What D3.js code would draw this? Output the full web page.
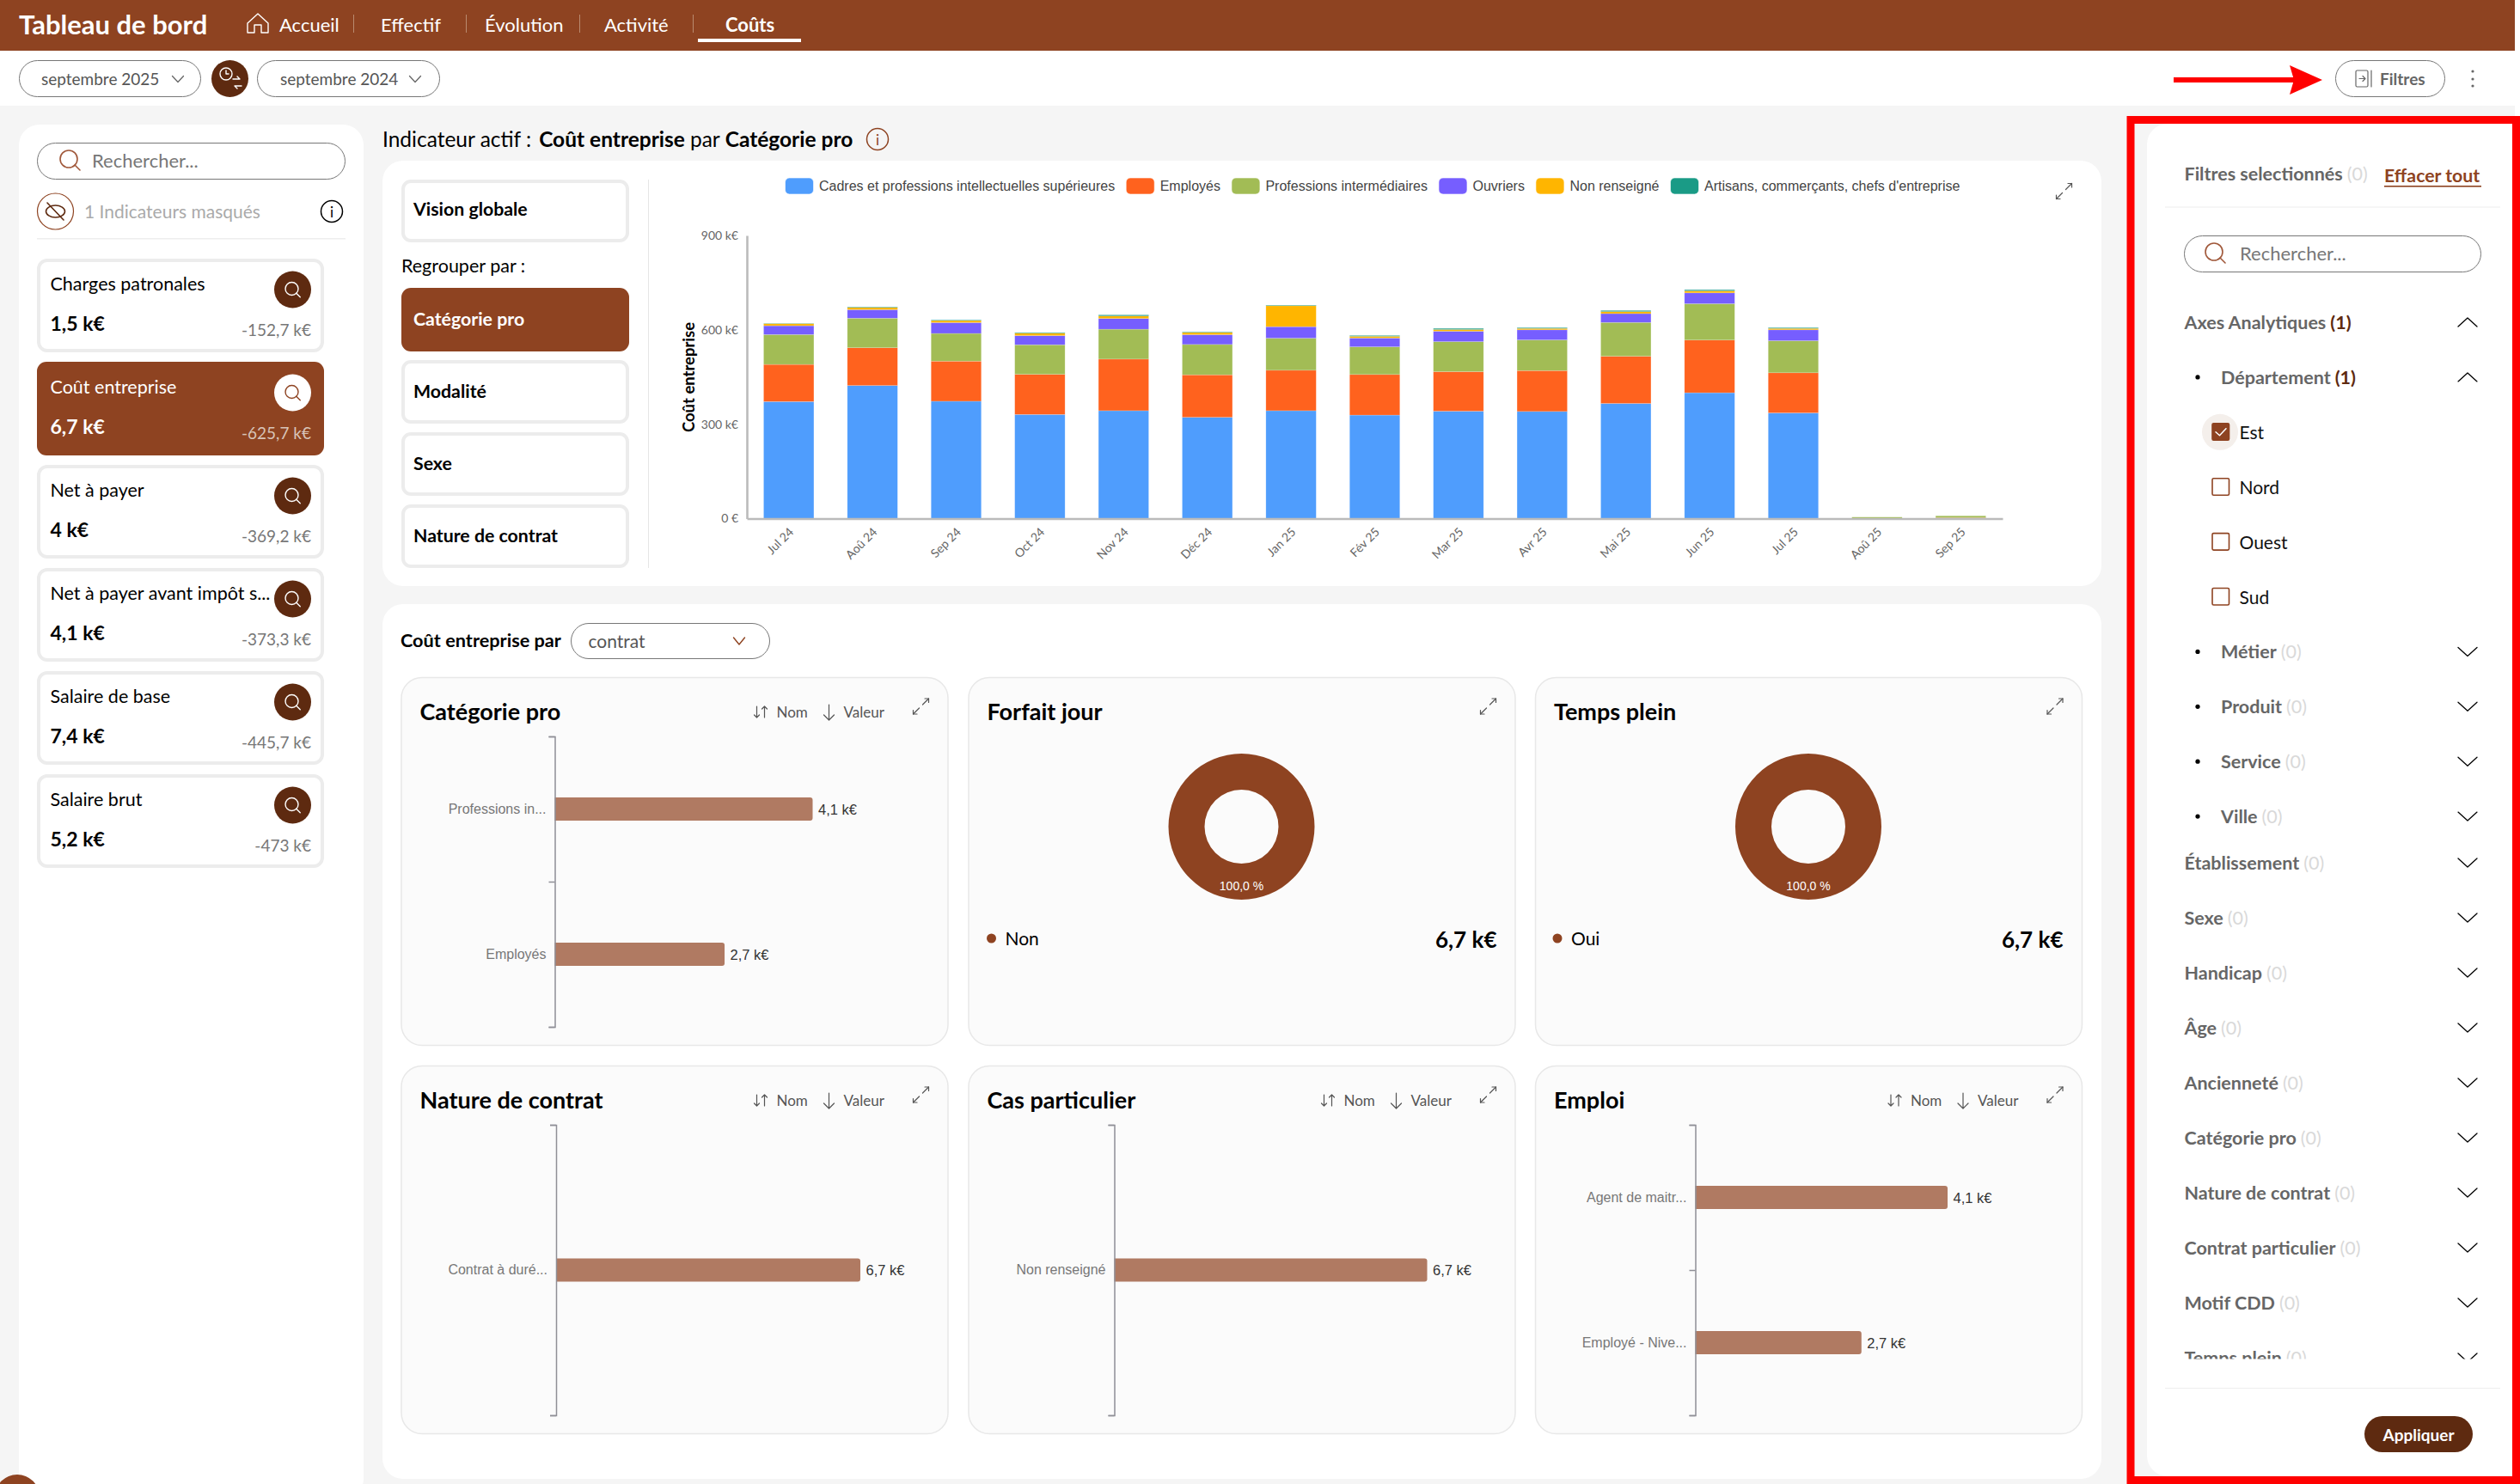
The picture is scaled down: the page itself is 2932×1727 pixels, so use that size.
<!DOCTYPE html>
<html lang="fr">
<head>
<meta charset="utf-8">
<title>Tableau de bord</title>
<script src="https://cdnjs.cloudflare.com/ajax/libs/d3/7.8.5/d3.min.js"></script>
<style>
  html, body { margin: 0; padding: 0; background: #fff; overflow: hidden; }
  svg { display: block; font-family: Lato, sans-serif; }
</style>
</head>
<body>
<svg id="page" width="2932" height="1727"></svg>
<script>
// chart values (k€)
var months = ['Jul 24', 'Aoû 24', 'Sep 24', 'Oct 24', 'Nov 24', 'Déc 24', 'Jan 25', 'Fév 25', 'Mar 25', 'Avr 25', 'Mai 25', 'Jun 25', 'Jul 25', 'Aoû 25', 'Sep 25'];
var seriesNames = ['Cadres et professions intellectuelles supérieures', 'Employés', 'Professions intermédiaires', 'Ouvriers', 'Non renseigné', "Artisans, commerçants, chefs d'entreprise"];
var cadres = [372, 423, 373, 331, 343, 322, 343, 329, 341.5, 340.5, 366, 400, 336, 0.3, 0.3];
var employes = [118, 120, 127.5, 127.5, 164, 135, 128.5, 129, 125.5, 130, 150, 167.5, 127.5, 0.5, 2.5];
var intermediaires = [95, 94, 88, 94, 95, 96.5, 102, 88, 95.5, 97.5, 107.5, 115.5, 102, 4, 6];
var ouvriers = [28, 27, 34.5, 29, 34, 31, 36.5, 28, 33, 32, 28, 34.5, 34.5, 0, 0];
var nonRenseigne = [6.5, 7, 6.5, 8, 8, 7, 66.5, 5.5, 5.5, 4.5, 6.5, 6.5, 4.5, 0, 0];
var artisans = [1, 2, 2, 2, 3.5, 2, 2, 2.5, 3.5, 2.5, 3.5, 3.5, 2.5, 0, 0];
var seriesColors = ['#4f9dfd', '#ff621e', '#a2bc55', '#765eff', '#ffb500', '#1a9b86'];
var yTicks = [0, 300, 600, 900];
var yTickLabels = ['0 €', '300 k€', '600 k€', '900 k€'];

var kpiNames = ['Charges patronales', 'Coût entreprise', 'Net à payer', 'Net à payer avant impôt s...', 'Salaire de base', 'Salaire brut'];
var kpiValues = ['1,5 k€', '6,7 k€', '4 k€', '4,1 k€', '7,4 k€', '5,2 k€'];
var kpiDeltas = ['-152,7 k€', '-625,7 k€', '-369,2 k€', '-373,3 k€', '-445,7 k€', '-473 k€'];

var navItems = ['Accueil', 'Effectif', 'Évolution', 'Activité', 'Coûts'];
var groupButtons = ['Catégorie pro', 'Modalité', 'Sexe', 'Nature de contrat'];

var catProLabels = ['Professions in...', 'Employés'];
var catProValues = [4.1, 2.7];
var natureLabels = ['Contrat à duré...'];
var natureValues = [6.7];
var casLabels = ['Non renseigné'];
var casValues = [6.7];
var emploiLabels = ['Agent de maitr...', 'Employé - Nive...'];
var emploiValues = [4.1, 2.7];
var valueLabels = { 4.1: '4,1 k€', 2.7: '2,7 k€', 6.7: '6,7 k€' };

var subFilters = ['Département', 'Est', 'Nord', 'Ouest', 'Sud', 'Métier', 'Produit', 'Service', 'Ville'];
var mainFilters = ['Établissement', 'Sexe', 'Handicap', 'Âge', 'Ancienneté', 'Catégorie pro', 'Nature de contrat', 'Contrat particulier', 'Motif CDD', 'Temps plein'];

var BROWN = '#8e4321', DARK = '#5e2a10', BAR = '#b07a62', GREY = '#666';
var svg = d3.select('#page');

function label(g, x, y, str, o) {
    o = o || {};
    return g.append('text')
        .attr('x', x).attr('y', y)
        .attr('dominant-baseline', 'central')
        .attr('text-anchor', o.anchor || 'start')
        .attr('font-size', o.size || 21)
        .attr('font-weight', o.weight || 400)
        .attr('font-family', o.family || null)
        .attr('fill', o.fill || '#000')
        .text(str);
}

function box(g, x, y, w, h, r, fill, stroke, sw) {
    return g.append('rect')
        .attr('x', x).attr('y', y).attr('width', w).attr('height', h).attr('rx', r)
        .attr('fill', fill || 'none')
        .attr('stroke', stroke || 'none')
        .attr('stroke-width', sw || 1);
}

function line(g, d, color, sw) {
    return g.append('path').attr('d', d).attr('fill', 'none')
        .attr('stroke', color).attr('stroke-width', sw || 1.5)
        .attr('stroke-linecap', 'round').attr('stroke-linejoin', 'round');
}

function chevron(g, x, y, w, h, up, color, sw) {
    var a = up ? y + h / 2 : y - h / 2, b = up ? y - h / 2 : y + h / 2;
    line(g, 'M' + (x - w / 2) + ',' + a + 'L' + x + ',' + b + 'L' + (x + w / 2) + ',' + a, color, sw);
}

function magnifier(g, x, y, r, color, sw) {
    g.append('circle').attr('cx', x).attr('cy', y).attr('r', r).attr('fill', 'none')
        .attr('stroke', color).attr('stroke-width', sw);
    line(g, 'M' + (x + r * 0.7) + ',' + (y + r * 0.7) + 'L' + (x + r * 1.3) + ',' + (y + r * 1.3), color, sw);
}

function expandIcon(g, cx, cy) {
    var c = '#555';
    line(g, 'M' + (cx - 9) + ',' + (cy + 9) + 'L' + (cx - 2) + ',' + (cy + 2), c, 1.2);
    line(g, 'M' + (cx - 9) + ',' + (cy + 4.5) + 'V' + (cy + 9) + 'H' + (cx - 4.5), c, 1.2);
    line(g, 'M' + (cx + 9) + ',' + (cy - 9) + 'L' + (cx + 2) + ',' + (cy - 2), c, 1.2);
    line(g, 'M' + (cx + 4.5) + ',' + (cy - 9) + 'H' + (cx + 9) + 'V' + (cy - 4.5), c, 1.2);
}

// page background, header, toolbar
var chrome = svg.append('g');
chrome.append('rect').attr('x', 0).attr('y', 123).attr('width', 2926).attr('height', 1604).attr('fill', '#f5f5f5');
chrome.append('rect').attr('width', 2926).attr('height', 59).attr('fill', BROWN);
label(chrome, 22, 28, 'Tableau de bord', { size: 31, weight: 700, fill: '#fff' });
line(chrome, 'M288,27L300,16L312,27V38H304V29H296V38H288Z', '#fff', 1.4);

var navX = [325, 443, 564, 703, 844];
navItems.forEach(function (d, i) {
    label(chrome, navX[i], 28, d, { size: 22, fill: '#fff', weight: i === 4 ? 700 : 400 });
});
[411, 542, 674, 806].forEach(function (x) {
    chrome.append('rect').attr('x', x).attr('y', 17).attr('width', 1).attr('height', 21).attr('fill', '#b98a6f');
});
chrome.append('rect').attr('x', 812).attr('y', 45).attr('width', 120).attr('height', 4).attr('fill', '#fff');

box(chrome, 22.5, 70.5, 211, 42, 21, '#fff', '#777', 1);
label(chrome, 48, 91, 'septembre 2025', { size: 19, fill: '#555' });
chevron(chrome, 207, 92, 13, 7, false, '#666', 1.3);
chrome.append('circle').attr('cx', 267.5).attr('cy', 91.5).attr('r', 21.5).attr('fill', DARK);
chrome.append('circle').attr('cx', 263).attr('cy', 86).attr('r', 7).attr('fill', 'none').attr('stroke', '#fff').attr('stroke-width', 1.4);
line(chrome, 'M263,82V86H266M271,92H279M279,92L276,89M281,100H273M273,100L276,103', '#fff', 1.4);
box(chrome, 299.5, 70.5, 212, 42, 21, '#fff', '#777', 1);
label(chrome, 326, 91, 'septembre 2024', { size: 19, fill: '#555' });
chevron(chrome, 483, 92, 13, 7, false, '#666', 1.3);

box(chrome, 2717.5, 70.5, 127, 42, 21, '#fff', '#777', 1);
box(chrome, 2741, 82, 14, 19, 1.5, 'none', '#666', 1.2);
line(chrome, 'M2745,91.5H2752M2749,88.5L2752,91.5L2749,94.5M2759,82V101', '#666', 1.2);
label(chrome, 2769, 91, 'Filtres', { size: 19, weight: 700, fill: GREY });
[83, 92, 100].forEach(function (y) {
    chrome.append('circle').attr('cx', 2877).attr('cy', y).attr('r', 1.6).attr('fill', '#666');
});

// left panel
var left = svg.append('g');
box(left, 22, 145, 401, 1600, 24, '#fff');
box(left, 43.5, 166.5, 358, 42, 21, '#fff', '#777', 1);
magnifier(left, 80, 185, 10, '#a0583a', 1.6);
label(left, 107, 186, 'Rechercher...', { size: 22, fill: '#777' });
left.append('circle').attr('cx', 64.5).attr('cy', 246).attr('r', 21).attr('fill', '#fff').attr('stroke', BROWN).attr('stroke-width', 1.2);
left.append('ellipse').attr('cx', 64.5).attr('cy', 246).attr('rx', 11).attr('ry', 7).attr('fill', 'none').attr('stroke', DARK).attr('stroke-width', 1.6);
line(left, 'M55,236L74,256', DARK, 1.6);
label(left, 98, 245, '1 Indicateurs masqués', { size: 21, fill: '#aaa' });
left.append('circle').attr('cx', 386).attr('cy', 246).attr('r', 12.5).attr('fill', 'none').attr('stroke', '#000').attr('stroke-width', 1.5);
label(left, 386, 246, 'i', { size: 17, anchor: 'middle' });
left.append('rect').attr('x', 43).attr('y', 277).attr('width', 359).attr('height', 1.5).attr('fill', '#eee');

kpiNames.forEach(function (name, i) {
    var y = 301 + i * 120;
    var active = i === 1;
    if (active) box(left, 43, y, 334, 109, 11, BROWN);
    else box(left, 45, y + 2, 330, 105, 10, '#fff', '#ececec', 4);
    label(left, 58.5, y + 29, name, { size: 21.5, fill: active ? '#fff' : '#000' });
    label(left, 58.5, y + 75, kpiValues[i], { size: 23, weight: 700, fill: active ? '#fff' : '#000' });
    label(left, 362, y + 82, kpiDeltas[i], { size: 19, anchor: 'end', fill: active ? '#d8c3b8' : '#777' });
    left.append('circle').attr('cx', 340.5).attr('cy', y + 36).attr('r', 21.5).attr('fill', active ? '#fff' : DARK);
    magnifier(left, 339.5, y + 35, 7.5, active ? BROWN : '#fff', 1.4);
});
// clipped help button at the bottom corner
svg.append('circle').attr('cx', 20).attr('cy', 1742).attr('r', 26).attr('fill', BROWN);

// active indicator title
var head = svg.append('g');
var headText = label(head, 445, 161, 'Indicateur actif :', { size: 24.5 });
headText.append('tspan').attr('dx', 9).attr('font-weight', 700).text('Coût entreprise');
headText.append('tspan').attr('dx', 6).text('par');
headText.append('tspan').attr('dx', 6).attr('font-weight', 700).text('Catégorie pro');
head.append('circle').attr('cx', 1021).attr('cy', 162).attr('r', 12.5).attr('fill', 'none').attr('stroke', BROWN).attr('stroke-width', 1.5);
label(head, 1021, 162, 'i', { size: 17, anchor: 'middle', fill: BROWN });

// main chart card
var upper = svg.append('g');
box(upper, 445, 187, 2000, 495, 24, '#fff');
box(upper, 469, 211, 261, 69, 9, '#fff', '#ececec', 4);
label(upper, 481, 242.5, 'Vision globale', { size: 21.3, weight: 700 });
label(upper, 467, 309, 'Regrouper par :', { size: 21.5 });
var buttonY = [335, 419, 503, 587];
groupButtons.forEach(function (d, i) {
    if (i === 0) box(upper, 467, buttonY[i], 265, 74, 11, BROWN);
    else box(upper, 469, buttonY[i] + 2, 261, 70, 9, '#fff', '#ececec', 4);
    label(upper, 481, buttonY[i] + 35.5, d, { size: 21.3, weight: 700, fill: i === 0 ? '#fff' : '#000' });
});
upper.append('rect').attr('x', 754).attr('y', 209).attr('width', 1).attr('height', 452).attr('fill', '#e6e6e6');

var stackRows = months.map(function (m, i) {
    return {
        month: m,
        s0: cadres[i], s1: employes[i], s2: intermediaires[i],
        s3: ouvriers[i], s4: nonRenseigne[i], s5: artisans[i]
    };
});
var stackKeys = ['s0', 's1', 's2', 's3', 's4', 's5'];
var stacked = d3.stack().keys(stackKeys)(stackRows);

var x = d3.scaleBand().domain(months).range([869, 2330]).paddingInner(0.4).paddingOuter(0.2);
var y = d3.scaleLinear().domain([0, 900]).range([603.5, 274]);

upper.selectAll('g.layer')
    .data(stacked)
    .enter().append('g')
    .attr('class', 'layer')
    .attr('fill', function (d, i) { return seriesColors[i]; })
    .selectAll('rect')
    .data(function (d) { return d.filter(function (e) { return e[1] > e[0]; }); })
    .enter().append('rect')
    .attr('x', function (d) { return x(d.data.month); })
    .attr('y', function (d) { return y(d[1]); })
    .attr('width', x.bandwidth())
    .attr('height', function (d) { return y(d[0]) - y(d[1]); })
    .attr('stroke', '#fff').attr('stroke-opacity', 0.3).attr('stroke-width', 0.6);

var yAxis = upper.append('g')
    .attr('transform', 'translate(869,0)')
    .call(d3.axisLeft(y).tickValues(yTicks).tickSize(0).tickPadding(10)
        .tickFormat(function (d, i) { return yTickLabels[i]; }));
var xAxis = upper.append('g')
    .attr('transform', 'translate(0,603.5)')
    .call(d3.axisBottom(x).tickSize(0).tickSizeOuter(0));
[yAxis, xAxis].forEach(function (a) {
    a.select('.domain').attr('stroke', '#bbb').attr('stroke-width', 2.6);
    a.selectAll('text').attr('font-family', 'Lato, sans-serif').attr('font-size', 14).attr('fill', '#666');
});
xAxis.selectAll('text')
    .attr('x', 0).attr('y', 0).attr('dy', '0.35em')
    .attr('text-anchor', 'end')
    .attr('transform', 'translate(3,13) rotate(-45)');

label(upper, 0, 0, 'Coût entreprise', { size: 18.5, weight: 700, anchor: 'middle' })
    .attr('transform', 'translate(800.5,439) rotate(-90)');

// legend, laid out from the measured text widths
var legendX = 913.5;
seriesNames.forEach(function (name, i) {
    box(upper, legendX, 207, 33, 19, 5, seriesColors[i], '#fff', 0.6);
    var t = label(upper, legendX + 39.5, 216, name, { size: 16, family: '"Liberation Sans", sans-serif', fill: '#444' });
    legendX += 39.5 + t.node().getComputedTextLength() + 13;
});
expandIcon(upper, 2401.5, 222.5);

// breakdown card
var lower = svg.append('g');
box(lower, 445, 703, 2000, 1018, 24, '#fff');
label(lower, 466, 744.5, 'Coût entreprise par', { size: 21.7, weight: 700 });
box(lower, 664.5, 725.5, 231, 41, 20.5, '#fff', '#777', 1);
label(lower, 684.5, 745, 'contrat', { size: 21, fill: '#555' });
chevron(lower, 860, 746, 13, 8, false, BROWN, 1.4);

var cardW = 637, cardH = 429;
function smallCard(cx, cy, title, sortable) {
    var g = lower.append('g');
    box(g, cx + 0.5, cy + 0.5, cardW - 1, cardH - 1, 24, '#fbfbfb', '#e8e8e8', 1.5);
    label(g, cx + 22, cy + 39.5, title, { size: 27, weight: 700 });
    expandIcon(g, cx + 605, cy + 34);
    if (sortable) {
        var sx = cx + 5;
        line(g, 'M' + (sx + 409) + ',' + (cy + 34) + 'V' + (cy + 47) + 'M' + (sx + 406) + ',' + (cy + 44) + 'L' + (sx + 409) + ',' + (cy + 47) + 'L' + (sx + 412) + ',' + (cy + 44), '#555', 1.2);
        line(g, 'M' + (sx + 418) + ',' + (cy + 47) + 'V' + (cy + 34) + 'M' + (sx + 415) + ',' + (cy + 37) + 'L' + (sx + 418) + ',' + (cy + 34) + 'L' + (sx + 421) + ',' + (cy + 37), '#555', 1.2);
        label(g, cx + 437, cy + 40, 'Nom', { size: 17, fill: '#555' });
        line(g, 'M' + (cx + 498) + ',' + (cy + 32) + 'V' + (cy + 50) + 'M' + (cx + 492) + ',' + (cy + 44) + 'L' + (cx + 498) + ',' + (cy + 50) + 'L' + (cx + 504) + ',' + (cy + 44), '#555', 1.2);
        label(g, cx + 515, cy + 40, 'Valeur', { size: 17, fill: '#555' });
    }
    return g;
}

function barShape(x0, x1, y0, h) {
    var p = d3.path(), r = 3;
    p.moveTo(x0, y0);
    p.lineTo(x1 - r, y0);
    p.arcTo(x1, y0, x1, y0 + r, r);
    p.lineTo(x1, y0 + h - r);
    p.arcTo(x1, y0 + h, x1 - r, y0 + h, r);
    p.lineTo(x0, y0 + h);
    p.closePath();
    return p.toString();
}

function barPanel(g, cats, vals, axisX, top0, top1, maxW) {
    var band = d3.scaleBand().domain(cats).range([top0, top1]);
    var boundary = d3.scaleLinear().domain([0, cats.length]).range([top0, top1]);
    var len = d3.scaleLinear().domain([0, d3.max(vals)]).range([axisX, axisX + maxW]);
    var barH = 27;

    g.selectAll('path.bar')
        .data(cats)
        .enter().append('path')
        .attr('class', 'bar')
        .attr('fill', BAR)
        .attr('d', function (d, i) {
            return barShape(axisX, len(vals[i]), band(d) + (band.bandwidth() - barH) / 2, barH);
        });
    cats.forEach(function (d, i) {
        label(g, len(vals[i]) + 6.5, band(d) + band.bandwidth() / 2, valueLabels[vals[i]],
            { size: 16.5, family: '"Liberation Sans", sans-serif', fill: '#333' });
    });

    var a = g.append('g').attr('transform', 'translate(' + axisX + ',0)')
        .call(d3.axisLeft(boundary).tickValues(d3.range(cats.length + 1)).tickSize(7).tickFormat(''));
    a.selectAll('line, path').attr('stroke', '#8f8f96').attr('stroke-width', 1.5);

    var b = g.append('g').attr('transform', 'translate(' + axisX + ',0)')
        .call(d3.axisLeft(band).tickSize(0).tickPadding(10));
    b.select('.domain').remove();
    b.selectAll('text').attr('font-family', '"Liberation Sans", sans-serif').attr('font-size', 16).attr('fill', '#777');
}

function donutPanel(g, cx, cy, name, value, legendX, totalX) {
    var pie = d3.pie().sort(null)([1]);
    var arc = d3.arc().innerRadius(43).outerRadius(85);
    var slice = g.append('g').attr('transform', 'translate(' + cx + ',' + cy + ')');
    slice.selectAll('path').data(pie).enter().append('path').attr('d', arc).attr('fill', BROWN);
    var c = arc.centroid(pie[0]);
    label(slice, c[0], c[1] + 4.5, '100,0 %', { size: 14, family: '"Liberation Sans", sans-serif', anchor: 'middle', fill: '#fff' });
    g.append('circle').attr('cx', legendX).attr('cy', 1092).attr('r', 5.5).attr('fill', BROWN);
    label(g, legendX + 16, 1091, name, { size: 21 });
    label(g, totalX, 1093, value, { size: 26, weight: 700, anchor: 'end' });
}

var col = [466.5, 1126.5, 1786];
barPanel(smallCard(col[0], 788, 'Catégorie pro', true), catProLabels, catProValues, 645.5, 857, 1195, 300);
donutPanel(smallCard(col[1], 788, 'Forfait jour', false), 1444.5, 962, 'Non', '6,7 k€', 1153.5, 1741.5);
donutPanel(smallCard(col[2], 788, 'Temps plein', false), 2104, 962, 'Oui', '6,7 k€', 1812, 2400.5);
barPanel(smallCard(col[0], 1240, 'Nature de contrat', true), natureLabels, natureValues, 647, 1309, 1647, 354);
barPanel(smallCard(col[1], 1240, 'Cas particulier', true), casLabels, casValues, 1296.5, 1309, 1647, 364);
barPanel(smallCard(col[2], 1240, 'Emploi', true), emploiLabels, emploiValues, 1972.5, 1309, 1647, 293.5);

// filter panel
var side = svg.append('g');
box(side, 2498, 144, 460, 1574, 24, '#fff');
function filterLabel(g, px, py, name, count, size) {
    var t = label(g, px, py, name, { size: size || 21.5, weight: 700, fill: GREY });
    t.append('tspan').attr('dx', 5)
        .attr('font-weight', count > 0 ? 700 : 400)
        .attr('fill', count > 0 ? DARK : '#d9d9d9')
        .text('(' + count + ')');
    return t;
}
filterLabel(side, 2541.5, 202, 'Filtres selectionnés', 0);
label(side, 2774, 204, 'Effacer tout', { size: 21.3, weight: 700, fill: BROWN });
side.append('rect').attr('x', 2774).attr('y', 216).attr('width', 113).attr('height', 1.6).attr('fill', BROWN);
side.append('rect').attr('x', 2519).attr('y', 240.5).attr('width', 390).attr('height', 1).attr('fill', '#eee');
box(side, 2541.5, 274.5, 345, 42, 21, '#fff', '#777', 1);
magnifier(side, 2576, 293, 10, '#a0583a', 1.6);
label(side, 2606, 294, 'Rechercher...', { size: 22, fill: '#777' });

svg.append('clipPath').attr('id', 'listClip').append('rect')
    .attr('x', 2498).attr('y', 340).attr('width', 430).attr('height', 1241.5);
var list = side.append('g').attr('clip-path', 'url(#listClip)');
var rowY = d3.scaleLinear().domain([0, 1]).range([375, 438.9]);

filterLabel(list, 2541.5, rowY(0), 'Axes Analytiques', 1);
chevron(list, 2871, rowY(0), 22, 10, true, '#000', 1.3);
subFilters.forEach(function (d, i) {
    var ry = rowY(i + 1);
    if (i >= 1 && i <= 4) {
        if (i === 1) list.append('circle').attr('cx', 2583).attr('cy', ry).attr('r', 21).attr('fill', '#f4efeb');
        box(list, 2574, ry - 10, 19.5, 19.5, 1.5, i === 1 ? BROWN : '#fff', BROWN, 1.6);
        if (i === 1) line(list, 'M2578,' + ry + 'L2582.5,' + (ry + 4) + 'L2590,' + (ry - 4), '#fff', 1.5);
        label(list, 2605.5, ry, d, { size: 21, fill: '#111' });
    } else {
        list.append('circle').attr('cx', 2557).attr('cy', ry).attr('r', 2.6).attr('fill', '#000');
        filterLabel(list, 2584, ry, d, i === 0 ? 1 : 0);
        chevron(list, 2871, ry, 22, 10, i === 0, '#000', 1.3);
    }
});
mainFilters.forEach(function (d, i) {
    var ry = 1004 + i * 64;
    filterLabel(list, 2541.5, ry, d, 0);
    chevron(list, 2871, ry, 22, 10, false, '#000', 1.3);
});
side.append('rect').attr('x', 2519).attr('y', 1615).attr('width', 390).attr('height', 1).attr('fill', '#eee');
box(side, 2751, 1648, 126, 42, 21, DARK);
label(side, 2814, 1669, 'Appliquer', { size: 19, weight: 700, fill: '#fff', anchor: 'middle' });

// red annotation
var note = svg.append('g');
note.append('rect').attr('x', 2479).attr('y', 139.5).attr('width', 448.5).attr('height', 1583)
    .attr('fill', 'none').attr('stroke', '#ff0000').attr('stroke-width', 9);
note.append('rect').attr('x', 2529).attr('y', 90).attr('width', 140).attr('height', 6).attr('fill', '#ff0000');
note.append('path').attr('d', 'M2664,76L2702,93L2664,110L2669,93Z').attr('fill', '#ff0000');
</script>
</body>
</html>
